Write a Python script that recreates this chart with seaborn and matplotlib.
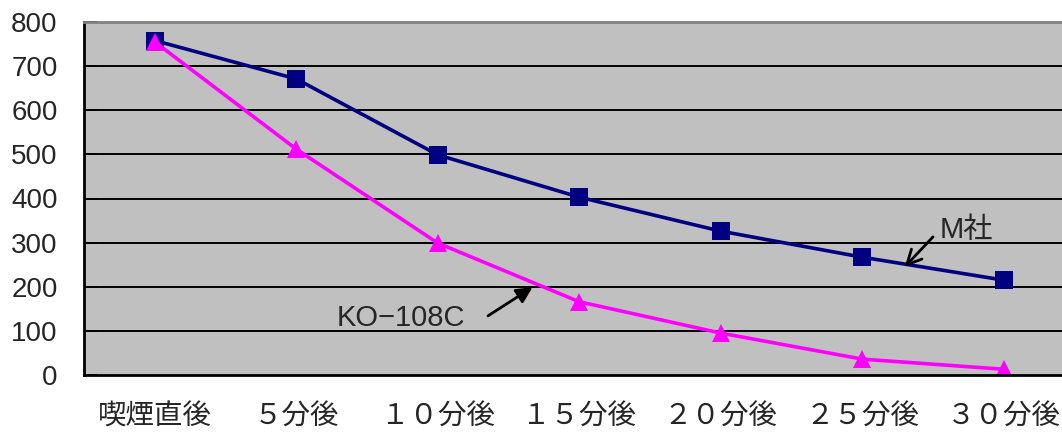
import matplotlib
matplotlib.use("Agg")
import matplotlib.pyplot as plt
import seaborn as sns
import pandas as pd
import numpy as np

categories = ["喫煙直後", "５分後", "１０分後", "１５分後", "２０分後", "２５分後", "３０分後"]
m_values = [758, 671, 499, 403, 326, 267, 215]
ko_values = [755, 512, 299, 166, 95, 36, 13]
series_names = ["M社", "KO-108C"]
y_ticks = [0, 100, 200, 300, 400, 500, 600, 700, 800]

sns.set_theme(style="white")
plt.rcParams["font.family"] = ["Liberation Sans", "Noto Sans CJK JP"]

df = pd.DataFrame({
    "cat": categories * 2,
    "value": m_values + ko_values,
    "series": [series_names[0]] * 7 + [series_names[1]] * 7,
})

fig = plt.figure(figsize=(10.62, 4.32), dpi=100)
W, H = 1062, 432
ax = fig.add_axes([84 / W, (H - 375) / H, 990.5 / W, 353 / H])
ax.set_facecolor("#C0C0C0")

sns.lineplot(data=df, x="cat", y="value", hue="series", style="series",
             palette={"M社": "#000080", "KO-108C": "#FF00FF"},
             markers={"M社": "s", "KO-108C": "^"},
             dashes=False, markersize=13, linewidth=2.6, markeredgewidth=0,
             legend=False, ax=ax, sort=False)

ax.set_xlim(-0.5, 6.5)
ax.set_ylim(0, 800)
ax.set_yticks(y_ticks)
ax.set_yticklabels([str(v) for v in y_ticks], fontsize=20)
for v in y_ticks[1:-1]:
    ax.axhline(v, color="black", lw=1.4, zorder=1)

# category labels centered, ticks at boundaries
ax.set_xticks(np.arange(7))
ax.set_xticklabels(categories, fontsize=20.5)
ax.tick_params(axis="x", which="major", length=0, pad=21)
ax.set_xticks(np.arange(0.5, 6.5, 1), minor=True)
ax.tick_params(axis="x", which="minor", direction="in", length=8, width=1.4, color="black")
ax.tick_params(axis="y", direction="in", length=9, width=1.4, color="black", pad=19, left=True)
ax.set_xlabel("")
ax.set_ylabel("")

for s in ["left", "bottom"]:
    ax.spines[s].set_color("black")
    ax.spines[s].set_linewidth(2)
ax.spines["top"].set_color("#808080")
ax.spines["top"].set_linewidth(2)
ax.spines["right"].set_visible(False)

# M社 label with open arrow
ax.text(5.55, 329, "M社", fontsize=21, ha="left", va="center")
ax.annotate("", xy=(5.30, 245), xytext=(5.50, 313),
            arrowprops=dict(arrowstyle="->", color="black", lw=2, mutation_scale=26,
                            shrinkA=0, shrinkB=0))
# KO-108C label with filled arrow
ax.text(1.74, 129, "KO−108C", fontsize=21, ha="center", va="center")
ax.annotate("", xy=(2.67, 199), xytext=(2.355, 134),
            arrowprops=dict(arrowstyle="-|>", color="black", lw=2, mutation_scale=24,
                            shrinkA=0, shrinkB=0))

fig.savefig("out.png", dpi=100)
